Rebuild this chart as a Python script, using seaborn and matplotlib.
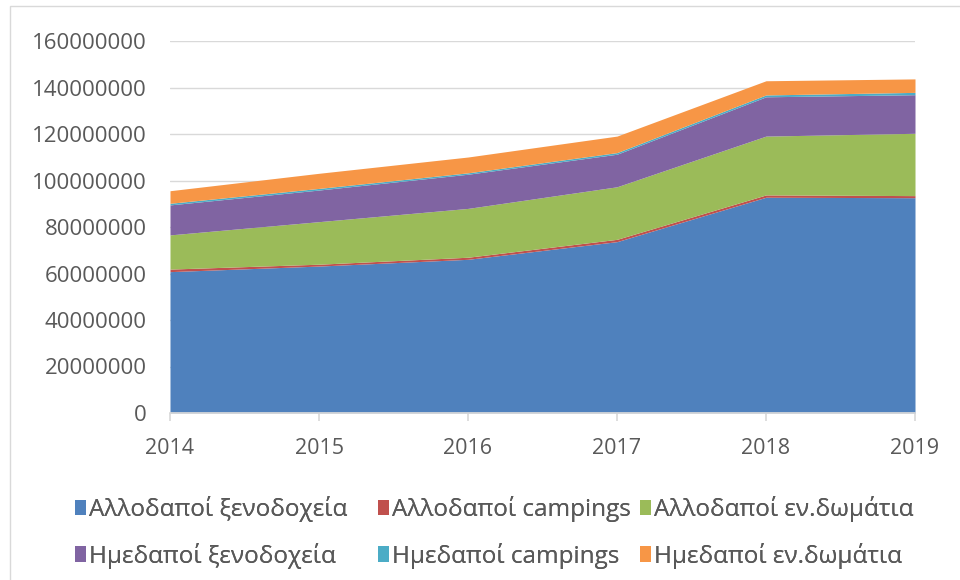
import numpy as np
import seaborn as sns
import matplotlib.pyplot as plt
from matplotlib.patches import Patch, Rectangle

# Δεδομένα (σε εκατομμύρια διανυκτερεύσεις, διαβασμένα από το γράφημα)
years = [2014, 2015, 2016, 2017, 2018, 2019]
allod_xenod = [60.8, 63.2, 66.1, 73.7, 92.8, 92.6]
allod_camp = [1.1, 0.8, 0.9, 1.0, 1.0, 0.9]
allod_dom = [14.7, 18.3, 21.0, 22.6, 25.3, 26.8]
imed_xenod = [12.9, 13.6, 14.7, 14.0, 16.9, 16.6]
imed_camp = [0.7, 0.7, 0.6, 0.7, 0.8, 1.0]
imed_dom = [5.4, 6.5, 6.8, 7.1, 6.1, 5.8]

labels = ["Αλλοδαποί ξενοδοχεία", "Αλλοδαποί campings", "Αλλοδαποί εν.δωμάτια",
          "Ημεδαποί ξενοδοχεία", "Ημεδαποί campings", "Ημεδαποί εν.δωμάτια"]
colors = ["#4F81BD", "#C0504D", "#9BBB59", "#8064A2", "#4BACC6", "#F79646"]
yticks = [0, 20, 40, 60, 80, 100, 120, 140, 160]

sns.set_theme(style="white")
plt.rcParams['font.family'] = ['Open Sans', 'DejaVu Sans']
text_col = "#595959"

fig = plt.figure(figsize=(9.6, 5.8), dpi=100)
ax = fig.add_axes([170 / 960, 1 - 413 / 580, 745 / 960, 372 / 580])

series = [np.array(s) * 1e6 for s in
          [allod_xenod, allod_camp, allod_dom, imed_xenod, imed_camp, imed_dom]]
ax.stackplot(years, *series, colors=colors, labels=labels, zorder=2, linewidth=0)

ax.set_xlim(years[0], years[-1])
ax.set_ylim(0, 160e6)
ax.set_yticks([v * 1e6 for v in yticks])
ax.set_yticklabels([str(v * 1000000) for v in yticks])
ax.set_xticks(years)
ax.set_xticklabels([str(y) for y in years])
ax.grid(axis='y', color='#d9d9d9', linewidth=1, zorder=0)
ax.set_axisbelow(True)

for s in ['top', 'right', 'left']:
    ax.spines[s].set_visible(False)
ax.spines['bottom'].set_color('#d9d9d9')
ax.tick_params(axis='x', which='major', bottom=True, length=6, color='#d9d9d9',
               labelsize=15.5, labelcolor=text_col, pad=12)
ax.tick_params(axis='y', left=False, length=0, labelsize=16, labelcolor=text_col, pad=17)

# υπόμνημα: μία στήλη ανά τύπο καταλύματος, σε θέσεις όπως στο πρωτότυπο
handles = [Patch(facecolor=c, edgecolor='none') for c in colors]
col_x = [75, 378, 640]
for k in range(3):
    idx = [k, k + 3]
    leg = fig.legend([handles[i] for i in idx], [labels[i] for i in idx],
                     loc='upper left', bbox_to_anchor=((col_x[k] - 22) / 960, 1 - 474 / 580),
                     ncol=1, frameon=False, fontsize=17.5, labelcolor=text_col,
                     handlelength=0.45, handleheight=0.6, handletextpad=0.15,
                     labelspacing=0.85)
    fig.add_artist(leg)

# πλαίσιο γύρω από το γράφημα
fig.patches.append(Rectangle((10 / 960, -0.01), 1.0, 1.0, transform=fig.transFigure,
                             fill=False, edgecolor='#d9d9d9', linewidth=1))

fig.savefig("out.png", dpi=100)
